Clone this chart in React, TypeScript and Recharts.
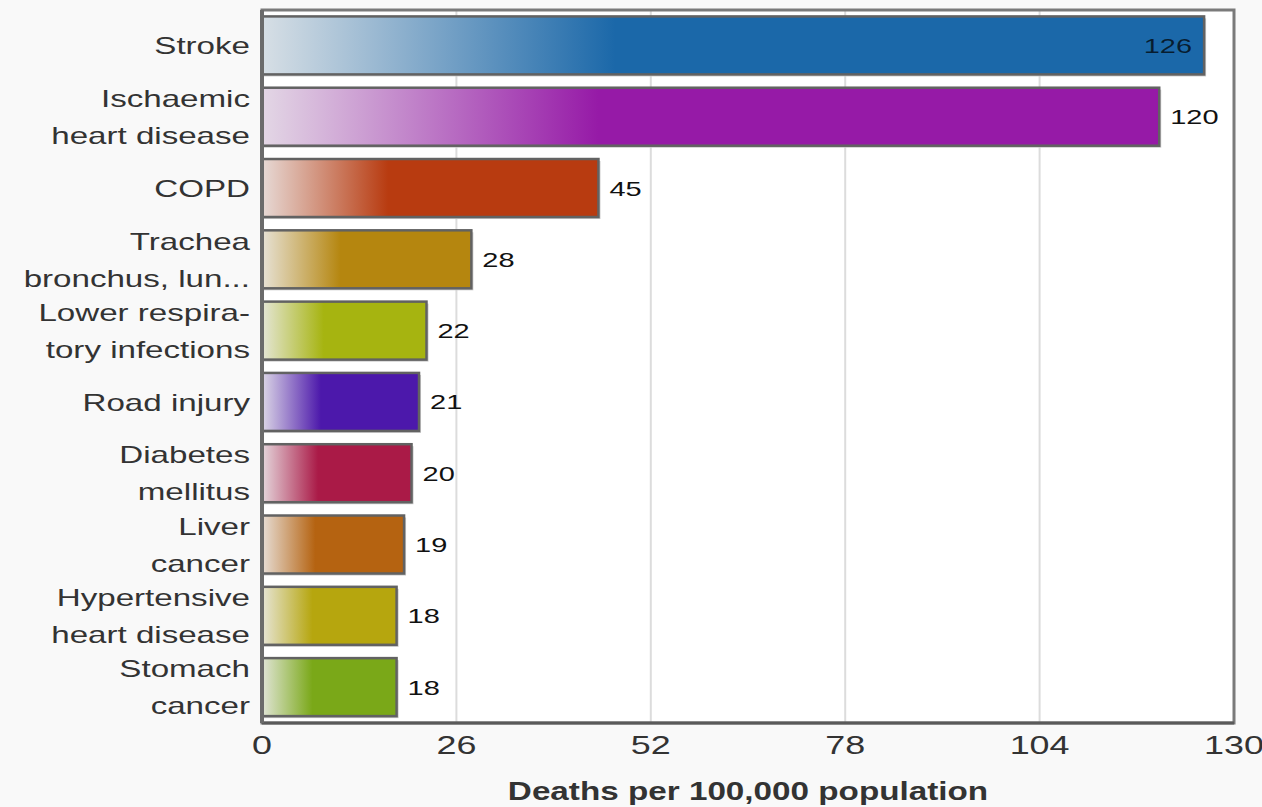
import React from 'react'
import {
  BarChart, Bar, XAxis, YAxis, CartesianGrid, LabelList, ReferenceArea,
} from 'recharts'

const categories = [
  'Stroke',
  'Ischaemic\nheart disease',
  'COPD',
  'Trachea\nbronchus, lun...',
  'Lower respira-\ntory infections',
  'Road injury',
  'Diabetes\nmellitus',
  'Liver\ncancer',
  'Hypertensive\nheart disease',
  'Stomach\ncancer',
]
const deaths = [126, 120, 45, 28, 22, 21, 20, 19, 18, 18]
const barColors = [
  '#1b68a9', '#961aa7', '#b83b10', '#b5860f', '#a6b410',
  '#4c18ab', '#aa1a47', '#b56311', '#b6a60e', '#7aa818',
]
const xTicks = [0, 26, 52, 78, 104, 130]
const axisTitle = 'Deaths per 100,000 population'

const FONT = '"Liberation Sans", Arial, sans-serif'
const STRETCH = 'scale(1.38,1)'
const PLOT_RIGHT = 1234

const chartData = categories.map((name, i) => ({ name, value: deaths[i] }))

// light tinted start of the bar gradient
const tint = (hex: string, w = 0.9) => {
  const n = parseInt(hex.slice(1), 16)
  const ch = [(n >> 16) & 255, (n >> 8) & 255, n & 255].map(c => Math.round(c * (1 - w) + 236 * w))
  return `rgb(${ch.join(',')})`
}

const CatTick = ({ x, y, payload }: any) => {
  const lines = String(payload.value).split('\n')
  const gap = 37
  const start = -((lines.length - 1) * gap) / 2
  return (
    <g transform={`translate(${x},${y})`}>
      {lines.map((l, i) => (
        <text key={i} x={0} y={start + i * gap + 8.5} transform={STRETCH} textAnchor="end"
          fontFamily={FONT} fontSize={24} fill="#333">{l}</text>
      ))}
    </g>
  )
}

const NumTick = ({ x, y, payload }: any) => (
  <g transform={`translate(${x},${y})`}>
    <text x={0} y={31} transform={STRETCH} textAnchor="middle" fontFamily={FONT} fontSize={26} fill="#333">
      {payload.value}
    </text>
  </g>
)

const BarShape = (props: any) => {
  const { x, y, width, height, index } = props
  return (
    <g>
      <rect x={x + 2} y={y + 2} width={width} height={height} fill="#c9c9c9" />
      <rect x={x} y={y} width={width} height={height} fill={`url(#grad${index})`}
        stroke="#626262" strokeWidth={2.5} />
    </g>
  )
}

const ValueLabel = (props: any) => {
  const { x, y, width, height, value } = props
  const textW = String(value).length * 0.556 * 21 * 1.38
  const end = x + width
  const inside = end + 11 + textW > PLOT_RIGHT
  const cy = y + height / 2 + 7.5
  return (
    <g transform={`translate(${inside ? end - 12 : end + 11},${cy})`}>
      <text x={0} y={0} transform={STRETCH} textAnchor={inside ? 'end' : 'start'}
        fontFamily={FONT} fontSize={21} fill={inside ? 'rgba(0,0,0,0.72)' : '#111'}>
        {value}
      </text>
    </g>
  )
}

const Title = (props: any) => {
  const vb = props.viewBox || { x: 262, y: 723, width: 972 }
  return (
    <g transform={`translate(${vb.x + vb.width / 2},${vb.y + 77})`}>
      <text x={0} y={0} transform="scale(1.33,1)" textAnchor="middle" fontFamily={FONT}
        fontSize={25} fontWeight="bold" fill="#333">{axisTitle}</text>
    </g>
  )
}

export default function App() {
  return (
    <div style={{ position: 'absolute', left: 0, top: 0, width: 1262, height: 807, background: '#f9f9f9' }}>
      <BarChart width={1262} height={807} data={chartData} layout="vertical"
        margin={{ top: 10, right: 28, left: 0, bottom: 0 }} barCategoryGap="9%">
        <defs>
          {barColors.map((c, i) => (
            <linearGradient key={i} id={`grad${i}`} x1="0" y1="0" x2="1" y2="0">
              <stop offset="0" stopColor={tint(c)} />
              <stop offset="0.375" stopColor={c} />
              <stop offset="1" stopColor={c} />
            </linearGradient>
          ))}
        </defs>
        <CartesianGrid horizontal={false} fill="#ffffff" stroke="#dcdcdc" strokeWidth={2} />
        <XAxis type="number" domain={[0, 130]} ticks={xTicks} height={84}
          tickSize={0} tickMargin={0} tick={<NumTick />}
          axisLine={{ stroke: '#5a5a5a', strokeWidth: 3 }} label={Title} />
        <YAxis type="category" dataKey="name" width={262} tickSize={0} tickMargin={12}
          tick={<CatTick />} interval={0} axisLine={{ stroke: '#6b6b6b', strokeWidth: 4 }} />
        <ReferenceArea x1={0} x2={130} fill="none" stroke="#7a7a7a" strokeWidth={3} ifOverflow="visible" />
        <Bar dataKey="value" isAnimationActive={false} shape={<BarShape />}>
          <LabelList dataKey="value" content={<ValueLabel />} />
        </Bar>
      </BarChart>
    </div>
  )
}
